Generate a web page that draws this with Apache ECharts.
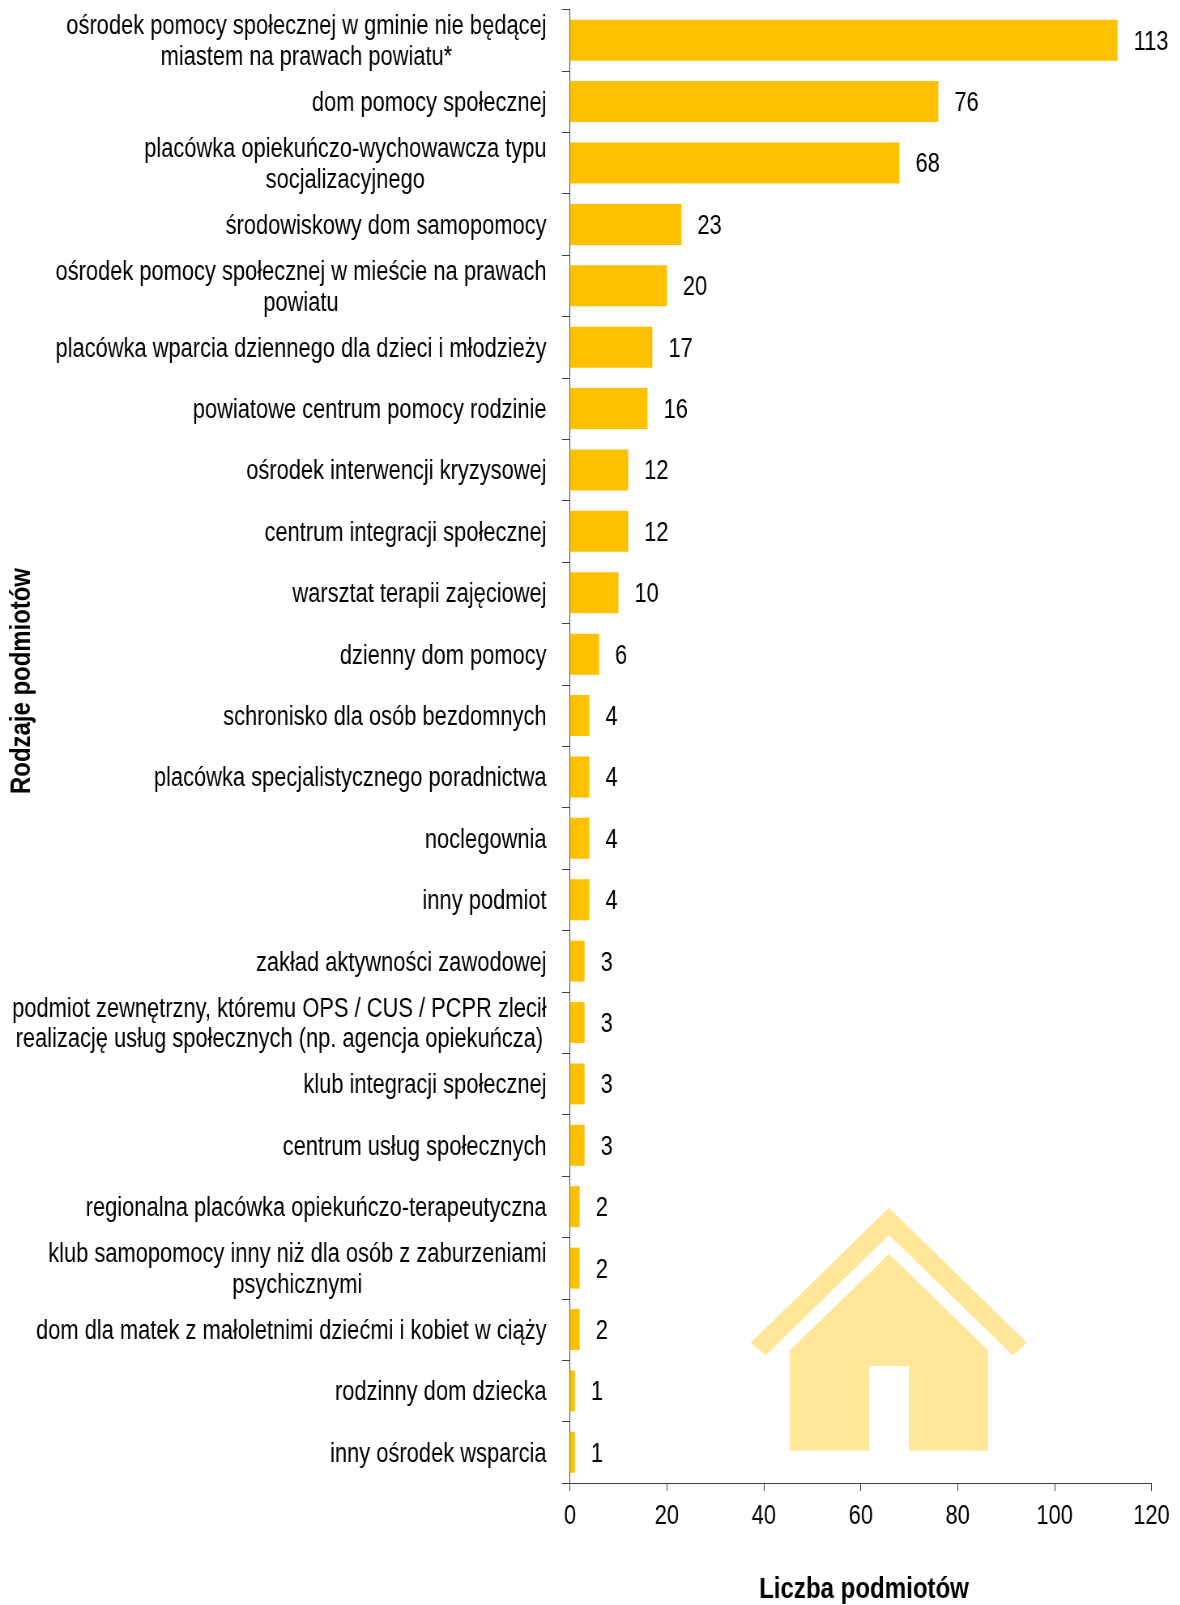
<!DOCTYPE html>
<html>
<head>
<meta charset="utf-8">
<style>
  html, body { margin: 0; padding: 0; background: #fff; overflow: hidden; }
  /* tekst w oryginale jest zwężony, Liberation Sans Narrow nie ma, więc zwężam cały wykres */
  #chart { width: 1457px; height: 1605px; transform: scaleX(0.81); transform-origin: 0 0; }
</style>
<script src="https://cdn.jsdelivr.net/npm/echarts@6/dist/echarts.min.js"></script>
</head>
<body>
<div id="chart"></div>
<script>
const categories = [
  'ośrodek pomocy społecznej w gminie nie będącej\nmiastem na prawach powiatu*',
  'dom pomocy społecznej',
  'placówka opiekuńczo-wychowawcza typu\nsocjalizacyjnego',
  'środowiskowy dom samopomocy',
  'ośrodek pomocy społecznej w mieście na prawach\npowiatu',
  'placówka wparcia dziennego dla dzieci i młodzieży',
  'powiatowe centrum pomocy rodzinie',
  'ośrodek interwencji kryzysowej',
  'centrum integracji społecznej',
  'warsztat terapii zajęciowej',
  'dzienny dom pomocy',
  'schronisko dla osób bezdomnych',
  'placówka specjalistycznego poradnictwa',
  'noclegownia',
  'inny podmiot',
  'zakład aktywności zawodowej',
  'podmiot zewnętrzny, któremu OPS / CUS / PCPR zlecił\nrealizację usług społecznych (np. agencja opiekuńcza)',
  'klub integracji społecznej',
  'centrum usług społecznych',
  'regionalna placówka opiekuńczo-terapeutyczna',
  'klub samopomocy inny niż dla osób z zaburzeniami\npsychicznymi',
  'dom dla matek z małoletnimi dziećmi i kobiet w ciąży',
  'rodzinny dom dziecka',
  'inny ośrodek wsparcia'
];
const counts = [113, 76, 68, 23, 20, 17, 16, 12, 12, 10, 6, 4, 4, 4, 4, 3, 3, 3, 3, 2, 2, 2, 1, 1];

const stretch = 0.81;
const font = '"Liberation Sans", sans-serif';
const houseColor = '#FFE699';
const axisColor = '#404040';

// px on the photo -> px inside the squeezed chart
const sx = (x) => x / stretch;
const pts = (list) => list.map((p) => [sx(p[0]), p[1]]);

let myChart = echarts.init(document.getElementById('chart'));
myChart.setOption({
  animation: false,
  backgroundColor: '#fff',
  grid: { left: sx(570), top: 9.5, width: sx(581.5), height: 1473.5, outerBoundsMode: 'none' },
  xAxis: {
    type: 'value',
    min: 0,
    max: 120,
    interval: 20,
    splitLine: { show: false },
    axisLine: { show: true, lineStyle: { color: axisColor, width: 1 } },
    axisTick: { show: true, length: 8, lineStyle: { color: axisColor, width: 1 } },
    axisLabel: { color: '#000', fontFamily: font, fontSize: 27, margin: 20 }
  },
  yAxis: {
    type: 'category',
    inverse: true,
    data: categories,
    axisLine: { show: true, lineStyle: { color: axisColor, width: 1 } },
    axisTick: { show: true, length: sx(8), lineStyle: { color: axisColor, width: 1 } },
    axisLabel: {
      align: 'right',
      margin: sx(23.5),
      interval: 0,
      padding: [4, 0, 0, 0],
      // wiersze etykiety wyśrodkowane względem najdłuższego
      formatter: (value) => value.split('\n').map((line) => '{c|' + line + '}').join('\n'),
      rich: {
        c: { align: 'center', color: '#000', fontFamily: font, fontSize: 27, lineHeight: 30.7 }
      }
    }
  },
  series: [{
    type: 'bar',
    data: counts,
    barWidth: 41,
    itemStyle: { color: '#FFC000' },
    label: {
      show: true,
      position: 'right',
      distance: sx(16),
      offset: [0, 2],
      color: '#000',
      fontFamily: font,
      fontSize: 27
    }
  }],
  graphic: [
    // domek w tle
    { type: 'polygon', z: 0, silent: true, style: { fill: houseColor },
      shape: { points: pts([[889, 1207.7], [1027, 1342.7], [1012.7, 1355.3], [889, 1235], [765.7, 1355.3], [750.7, 1342.7]]) } },
    { type: 'polygon', z: 0, silent: true, style: { fill: houseColor },
      shape: { points: pts([[889, 1254], [988, 1350.3], [988, 1450.7], [909, 1450.7], [909, 1366], [869.3, 1366], [869.3, 1450.7], [790, 1450.7], [790, 1350.3]]) } },
    { type: 'text', silent: true, x: sx(864), y: 1590,
      style: { text: 'Liczba podmiotów', fill: '#000', font: 'bold 29.7px ' + font, align: 'center', verticalAlign: 'middle' } },
    { type: 'text', silent: true, rotation: Math.PI / 2, x: sx(22), y: 681, scaleX: 0.825, scaleY: 1 / stretch,
      style: { text: 'Rodzaje podmiotów', fill: '#000', font: 'bold 29px ' + font, align: 'center', verticalAlign: 'middle' } }
  ]
});
</script>
</body>
</html>
